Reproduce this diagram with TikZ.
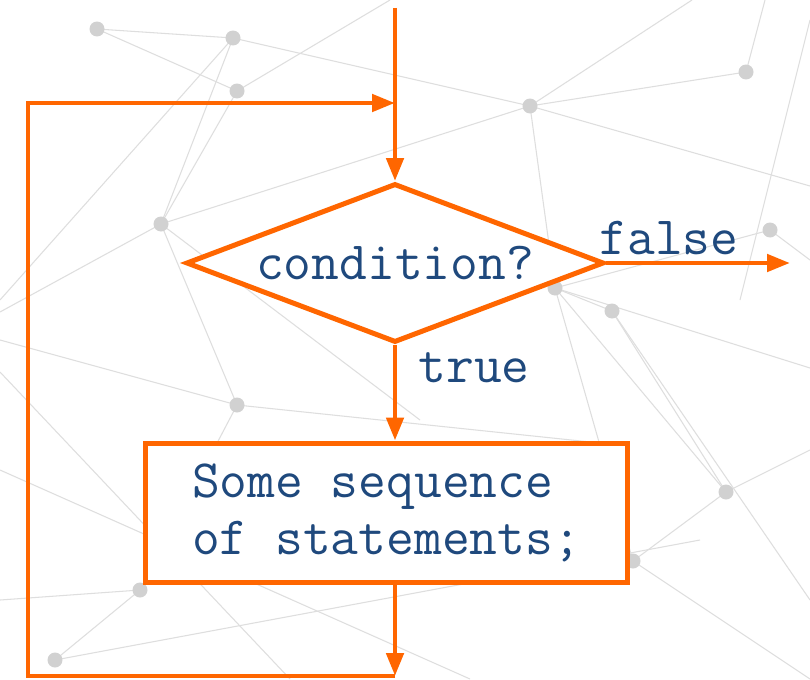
\documentclass[tikz,border=0pt]{standalone}
\usetikzlibrary{arrows.meta,shapes.geometric}
\definecolor{floworange}{RGB}{255,102,0}
\definecolor{codeblue}{RGB}{31,73,125}

\tikzset{
  flow/.style={draw=floworange,line width=0.095cm,-{Triangle[length=0.46cm,width=0.34cm]}},
  test/.style={diamond,draw=floworange,fill=white,line width=0.1cm,inner sep=0pt,
    aspect=2.63,minimum width=8.36cm,minimum height=3.18cm},
  stmt/.style={rectangle,draw=floworange,fill=white,line width=0.1cm,
    minimum width=9.66cm,minimum height=2.8cm,align=left},
  code/.style={text=codeblue,font=\ttfamily\fontsize{30.7}{32.4}\selectfont},
  net/.style={draw=black!13,line width=0.6pt},
  netdot/.style={circle,fill=black!18,inner sep=0pt,minimum size=0.3cm}
}

\begin{document}
\begin{tikzpicture}[x=0.02cm,y=-0.02cm]

\useasboundingbox[fill=white] (0,0) rectangle (810,679);

% background net
\foreach \x/\y [count=\i] in {97/29,233/38,237/91,746/72,530/106,161/224,555/288,
  770/230,612/311,237/405,726/492,633/561,140/590,55/660}
  \coordinate (n\i) at (\x,\y);
\foreach \a/\b in {1/2,2/5,5/6,6/2,6/10,5/7,7/8,7/9,7/11,7/12,9/11,11/12,13/10,14/13,3/6,1/3,4/5}
  \draw[net] (n\a) -- (n\b);
\foreach \a/\x/\y in {5/810/186,5/692/0,2/0/300,6/0/312,6/420/420,7/810/368,
  11/810/450,12/810/679,14/700/540,4/765/0,10/0/340,10/600/443,13/0/600,8/810/260,
  9/810/600,3/390/0}
  \draw[net] (n\a) -- (\x,\y);
\draw[net] (0,372) -- (290,679);
\draw[net] (0,470) -- (470,679);
\draw[net] (810,20) -- (740,300);
\foreach \i in {1,...,14}
  \node[netdot] (d\i) at (n\i) {};

% flowchart
\node[test,code] (cond) at (395,263) {condition?};
\node[stmt,code] (body) at (386.5,513) {Some sequence\\of statements;};

\coordinate (entry) at (395,8);
\coordinate (exit) at (790,263);
\coordinate (bottom) at (395,676);
\coordinate (lowleft) at (28,676);
\coordinate (upleft) at (28,103);
\coordinate (join) at (395,103);

\draw[flow] (entry) -- (cond);
\draw[flow] (cond) -- (cond |- body.north);
\draw[flow] (cond.east) -- (exit);
\draw[flow] (body.south -| cond) -- (bottom);
\draw[flow] (bottom) -- (lowleft) -- (upleft) -- (join);

\node[code] (no) at (669,238) {false};
\node[code] (yes) at (474,368) {true};

\end{tikzpicture}
\end{document}
